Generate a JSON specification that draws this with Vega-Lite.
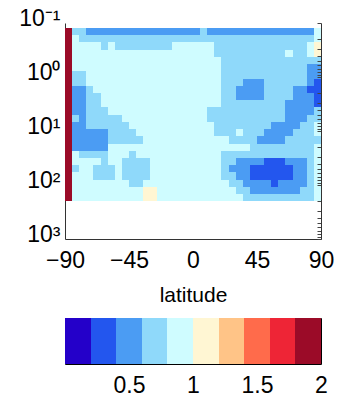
{
  "$schema": "https://vega.github.io/schema/vega-lite/v6.json",
  "background": "white",
  "padding": {"left": 18, "top": 7, "right": 5, "bottom": 2},
  "config": {
    "font": "Liberation Sans",
    "view": {"stroke": null},
    "axis": {"labelFont": "Liberation Sans", "titleFont": "Liberation Sans", "labelColor": "black", "titleColor": "black", "grid": false}
  },
  "spacing": 79,
  "bounds": "flush",
  "resolve": {"scale": {"x": "independent", "y": "independent", "color": "shared"}},
  "vconcat": [
    {
      "width": 256,
      "height": 216,
      "data": {"values": [
        {"a":-90,"b":-85,"p":0.124,"q":200,"v":1.9},
        {"a":-85,"b":-75,"p":0.124,"q":0.169,"v":0.7},{"a":-75,"b":5,"p":0.124,"q":0.169,"v":0.5},{"a":5,"b":10,"p":0.124,"q":0.169,"v":0.7},{"a":10,"b":85,"p":0.124,"q":0.169,"v":0.5},{"a":85,"b":90,"p":0.124,"q":0.169,"v":0.9},
        {"a":-85,"b":-80,"p":0.169,"q":0.229,"v":0.9},{"a":-80,"b":85,"p":0.169,"q":0.229,"v":0.7},{"a":85,"b":90,"p":0.169,"q":0.229,"v":0.9},
        {"a":-85,"b":-65,"p":0.229,"q":0.312,"v":0.9},{"a":-65,"b":-60,"p":0.229,"q":0.312,"v":0.7},{"a":-60,"b":-55,"p":0.229,"q":0.312,"v":0.9},{"a":-55,"b":-15,"p":0.229,"q":0.312,"v":0.7},{"a":-15,"b":15,"p":0.229,"q":0.312,"v":0.9},{"a":15,"b":80,"p":0.229,"q":0.312,"v":0.7},{"a":80,"b":85,"p":0.229,"q":0.312,"v":0.9},{"a":85,"b":90,"p":0.229,"q":0.312,"v":1.1},
        {"a":-85,"b":15,"p":0.312,"q":0.424,"v":0.9},{"a":15,"b":65,"p":0.312,"q":0.424,"v":0.7},{"a":65,"b":70,"p":0.312,"q":0.424,"v":0.9},{"a":70,"b":80,"p":0.312,"q":0.424,"v":0.7},{"a":80,"b":85,"p":0.312,"q":0.424,"v":0.9},{"a":85,"b":90,"p":0.312,"q":0.424,"v":1.1},
        {"a":-85,"b":20,"p":0.424,"q":0.577,"v":0.9},{"a":20,"b":90,"p":0.424,"q":0.577,"v":0.7},
        {"a":-85,"b":20,"p":0.577,"q":0.786,"v":0.9},{"a":20,"b":80,"p":0.577,"q":0.786,"v":0.7},{"a":80,"b":90,"p":0.577,"q":0.786,"v":0.5},
        {"a":-85,"b":-75,"p":0.786,"q":1.07,"v":0.7},{"a":-75,"b":20,"p":0.786,"q":1.07,"v":0.9},{"a":20,"b":80,"p":0.786,"q":1.07,"v":0.7},{"a":80,"b":90,"p":0.786,"q":1.07,"v":0.5},
        {"a":-85,"b":-75,"p":1.07,"q":1.45,"v":0.7},{"a":-75,"b":20,"p":1.07,"q":1.45,"v":0.9},{"a":20,"b":35,"p":1.07,"q":1.45,"v":0.7},{"a":35,"b":50,"p":1.07,"q":1.45,"v":0.5},{"a":50,"b":80,"p":1.07,"q":1.45,"v":0.7},{"a":80,"b":85,"p":1.07,"q":1.45,"v":0.5},{"a":85,"b":90,"p":1.07,"q":1.45,"v":0.3},
        {"a":-85,"b":-75,"p":1.45,"q":1.98,"v":0.5},{"a":-75,"b":-70,"p":1.45,"q":1.98,"v":0.7},{"a":-70,"b":20,"p":1.45,"q":1.98,"v":0.9},{"a":20,"b":30,"p":1.45,"q":1.98,"v":0.7},{"a":30,"b":50,"p":1.45,"q":1.98,"v":0.5},{"a":50,"b":70,"p":1.45,"q":1.98,"v":0.7},{"a":70,"b":80,"p":1.45,"q":1.98,"v":0.5},{"a":80,"b":90,"p":1.45,"q":1.98,"v":0.3},
        {"a":-85,"b":-75,"p":1.98,"q":2.69,"v":0.5},{"a":-75,"b":-65,"p":1.98,"q":2.69,"v":0.7},{"a":-65,"b":20,"p":1.98,"q":2.69,"v":0.9},{"a":20,"b":30,"p":1.98,"q":2.69,"v":0.7},{"a":30,"b":50,"p":1.98,"q":2.69,"v":0.5},{"a":50,"b":70,"p":1.98,"q":2.69,"v":0.7},{"a":70,"b":85,"p":1.98,"q":2.69,"v":0.5},{"a":85,"b":90,"p":1.98,"q":2.69,"v":0.3},
        {"a":-85,"b":-75,"p":2.69,"q":3.66,"v":0.5},{"a":-75,"b":-65,"p":2.69,"q":3.66,"v":0.7},{"a":-65,"b":20,"p":2.69,"q":3.66,"v":0.9},{"a":20,"b":65,"p":2.69,"q":3.66,"v":0.7},{"a":65,"b":85,"p":2.69,"q":3.66,"v":0.5},{"a":85,"b":90,"p":2.69,"q":3.66,"v":0.3},
        {"a":-85,"b":-75,"p":3.66,"q":4.98,"v":0.5},{"a":-75,"b":-60,"p":3.66,"q":4.98,"v":0.7},{"a":-60,"b":10,"p":3.66,"q":4.98,"v":0.9},{"a":10,"b":65,"p":3.66,"q":4.98,"v":0.7},{"a":65,"b":85,"p":3.66,"q":4.98,"v":0.5},{"a":85,"b":90,"p":3.66,"q":4.98,"v":0.7},
        {"a":-85,"b":-80,"p":4.98,"q":6.78,"v":0.7},{"a":-80,"b":-75,"p":4.98,"q":6.78,"v":0.5},{"a":-75,"b":-50,"p":4.98,"q":6.78,"v":0.7},{"a":-50,"b":10,"p":4.98,"q":6.78,"v":0.9},{"a":10,"b":65,"p":4.98,"q":6.78,"v":0.7},{"a":65,"b":80,"p":4.98,"q":6.78,"v":0.5},{"a":80,"b":90,"p":4.98,"q":6.78,"v":0.7},
        {"a":-85,"b":-75,"p":6.78,"q":9.22,"v":0.5},{"a":-75,"b":-45,"p":6.78,"q":9.22,"v":0.7},{"a":-45,"b":15,"p":6.78,"q":9.22,"v":0.9},{"a":15,"b":55,"p":6.78,"q":9.22,"v":0.7},{"a":55,"b":75,"p":6.78,"q":9.22,"v":0.5},{"a":75,"b":85,"p":6.78,"q":9.22,"v":0.7},{"a":85,"b":90,"p":6.78,"q":9.22,"v":0.9},
        {"a":-85,"b":-60,"p":9.22,"q":12.5,"v":0.5},{"a":-60,"b":-40,"p":9.22,"q":12.5,"v":0.7},{"a":-40,"b":15,"p":9.22,"q":12.5,"v":0.9},{"a":15,"b":30,"p":9.22,"q":12.5,"v":0.7},{"a":30,"b":35,"p":9.22,"q":12.5,"v":0.9},{"a":35,"b":50,"p":9.22,"q":12.5,"v":0.7},{"a":50,"b":70,"p":9.22,"q":12.5,"v":0.5},{"a":70,"b":85,"p":9.22,"q":12.5,"v":0.7},{"a":85,"b":90,"p":9.22,"q":12.5,"v":0.9},
        {"a":-85,"b":-60,"p":12.5,"q":17.1,"v":0.5},{"a":-60,"b":-35,"p":12.5,"q":17.1,"v":0.7},{"a":-35,"b":25,"p":12.5,"q":17.1,"v":0.9},{"a":25,"b":45,"p":12.5,"q":17.1,"v":0.7},{"a":45,"b":65,"p":12.5,"q":17.1,"v":0.5},{"a":65,"b":90,"p":12.5,"q":17.1,"v":0.7},
        {"a":-85,"b":-60,"p":17.1,"q":23.2,"v":0.5},{"a":-60,"b":40,"p":17.1,"q":23.2,"v":0.9},{"a":40,"b":85,"p":17.1,"q":23.2,"v":0.7},{"a":85,"b":90,"p":17.1,"q":23.2,"v":0.9},
        {"a":-85,"b":-80,"p":23.2,"q":31.6,"v":0.9},{"a":-80,"b":-60,"p":23.2,"q":31.6,"v":0.7},{"a":-60,"b":-45,"p":23.2,"q":31.6,"v":0.9},{"a":-45,"b":-40,"p":23.2,"q":31.6,"v":0.7},{"a":-40,"b":20,"p":23.2,"q":31.6,"v":0.9},{"a":20,"b":85,"p":23.2,"q":31.6,"v":0.7},{"a":85,"b":90,"p":23.2,"q":31.6,"v":0.9},
        {"a":-85,"b":-65,"p":31.6,"q":43,"v":0.9},{"a":-65,"b":-60,"p":31.6,"q":43,"v":0.7},{"a":-60,"b":-50,"p":31.6,"q":43,"v":0.9},{"a":-50,"b":-30,"p":31.6,"q":43,"v":0.7},{"a":-30,"b":20,"p":31.6,"q":43,"v":0.9},{"a":20,"b":30,"p":31.6,"q":43,"v":0.7},{"a":30,"b":50,"p":31.6,"q":43,"v":0.5},{"a":50,"b":65,"p":31.6,"q":43,"v":0.3},{"a":65,"b":80,"p":31.6,"q":43,"v":0.5},{"a":80,"b":85,"p":31.6,"q":43,"v":0.7},{"a":85,"b":90,"p":31.6,"q":43,"v":0.9},
        {"a":-85,"b":-80,"p":43,"q":58.5,"v":0.7},{"a":-80,"b":-70,"p":43,"q":58.5,"v":0.9},{"a":-70,"b":-55,"p":43,"q":58.5,"v":0.7},{"a":-55,"b":-50,"p":43,"q":58.5,"v":0.9},{"a":-50,"b":-30,"p":43,"q":58.5,"v":0.7},{"a":-30,"b":20,"p":43,"q":58.5,"v":0.9},{"a":20,"b":25,"p":43,"q":58.5,"v":0.7},{"a":25,"b":40,"p":43,"q":58.5,"v":0.5},{"a":40,"b":70,"p":43,"q":58.5,"v":0.3},{"a":70,"b":80,"p":43,"q":58.5,"v":0.5},{"a":80,"b":85,"p":43,"q":58.5,"v":0.7},{"a":85,"b":90,"p":43,"q":58.5,"v":0.9},
        {"a":-85,"b":-70,"p":58.5,"q":79.6,"v":0.9},{"a":-70,"b":-55,"p":58.5,"q":79.6,"v":0.7},{"a":-55,"b":-50,"p":58.5,"q":79.6,"v":0.9},{"a":-50,"b":-30,"p":58.5,"q":79.6,"v":0.7},{"a":-30,"b":20,"p":58.5,"q":79.6,"v":0.9},{"a":20,"b":30,"p":58.5,"q":79.6,"v":0.7},{"a":30,"b":40,"p":58.5,"q":79.6,"v":0.5},{"a":40,"b":70,"p":58.5,"q":79.6,"v":0.3},{"a":70,"b":80,"p":58.5,"q":79.6,"v":0.5},{"a":80,"b":85,"p":58.5,"q":79.6,"v":0.7},{"a":85,"b":90,"p":58.5,"q":79.6,"v":0.9},
        {"a":-85,"b":-45,"p":79.6,"q":108,"v":0.9},{"a":-45,"b":-35,"p":79.6,"q":108,"v":0.7},{"a":-35,"b":25,"p":79.6,"q":108,"v":0.9},{"a":25,"b":35,"p":79.6,"q":108,"v":0.7},{"a":35,"b":55,"p":79.6,"q":108,"v":0.5},{"a":55,"b":60,"p":79.6,"q":108,"v":0.3},{"a":60,"b":80,"p":79.6,"q":108,"v":0.5},{"a":80,"b":85,"p":79.6,"q":108,"v":0.7},{"a":85,"b":90,"p":79.6,"q":108,"v":0.9},
        {"a":-85,"b":-35,"p":108,"q":147,"v":0.9},{"a":-35,"b":-25,"p":108,"q":147,"v":1.1},{"a":-25,"b":30,"p":108,"q":147,"v":0.9},{"a":30,"b":40,"p":108,"q":147,"v":0.7},{"a":40,"b":75,"p":108,"q":147,"v":0.5},{"a":75,"b":85,"p":108,"q":147,"v":0.7},{"a":85,"b":90,"p":108,"q":147,"v":0.9},
        {"a":-85,"b":-35,"p":147,"q":200,"v":0.9},{"a":-35,"b":-25,"p":147,"q":200,"v":1.1},{"a":-25,"b":35,"p":147,"q":200,"v":0.9},{"a":35,"b":85,"p":147,"q":200,"v":0.7},{"a":85,"b":90,"p":147,"q":200,"v":0.9}
      ]},
      "layer": [
        {
          "mark": {"type": "rect"},
          "encoding": {
            "x": {"field": "a", "type": "quantitative", "scale": {"domain": [-90, 90], "nice": false, "round": true},
              "axis": {"values": [-90, -45, 0, 45, 90], "title": "latitude", "labelFontSize": 23, "titleFontSize": 21, "titleFontWeight": "normal", "ticks": false, "labelPadding": 10, "titlePadding": 12, "domainColor": "#333", "labelFlush": false, "labelOverlap": false}},
            "x2": {"field": "b"},
            "y": {"field": "p", "type": "quantitative", "scale": {"type": "log", "domain": [0.1, 1000], "reverse": true, "nice": false, "round": true},
              "axis": {"values": [0.1, 1, 10, 100, 1000], "title": null, "labelFontSize": 23, "ticks": false, "labelPadding": 5, "labelOffset": -5, "domainColor": "#333", "labelFlush": false, "labelOverlap": false,
                "labelExpr": "datum.value < 0.5 ? '10⁻¹' : datum.value < 5 ? '10⁰' : datum.value < 50 ? '10¹' : datum.value < 500 ? '10²' : '10³'"}},
            "y2": {"field": "q"},
            "color": {"field": "v", "type": "quantitative", "legend": null,
              "scale": {"type": "threshold", "domain": [0.2, 0.4, 0.6, 0.8, 1.0, 1.2, 1.4, 1.6, 1.8],
                "range": ["#2400c9", "#2356ee", "#4b9cf3", "#8fd9fa", "#cffcff", "#fff6d3", "#ffc487", "#ff6b4b", "#ee2536", "#9b0b28"]}}
          }
        },
        {
          "mark": {"type": "rect", "opacity": 0},
          "encoding": {
            "y": {"field": "p", "type": "quantitative", "scale": {"type": "log", "domain": [0.1, 1000], "reverse": true, "nice": false, "round": true},
              "axis": {"orient": "right", "labels": false, "title": null, "ticks": true, "tickSize": -4, "tickColor": "#444", "domainColor": "#333", "zindex": 1,
                "values": [0.1,0.2,0.3,0.4,0.5,0.6,0.7,0.8,0.9,1,2,3,4,5,6,7,8,9,10,20,30,40,50,60,70,80,90,100,200,300,400,500,600,700,800,900,1000]}},
            "y2": {"field": "q"}
          }
        }
      ],
      "resolve": {"axis": {"y": "independent"}}
    },
    {
      "width": 256,
      "height": 46,
      "view": {"stroke": "black", "strokeWidth": 1},
      "data": {"values": [
        {"lo": 0.0, "hi": 0.2, "v": 0.1}, {"lo": 0.2, "hi": 0.4, "v": 0.3}, {"lo": 0.4, "hi": 0.6, "v": 0.5}, {"lo": 0.6, "hi": 0.8, "v": 0.7}, {"lo": 0.8, "hi": 1.0, "v": 0.9},
        {"lo": 1.0, "hi": 1.2, "v": 1.1}, {"lo": 1.2, "hi": 1.4, "v": 1.3}, {"lo": 1.4, "hi": 1.6, "v": 1.5}, {"lo": 1.6, "hi": 1.8, "v": 1.7}, {"lo": 1.8, "hi": 2.0, "v": 1.9}
      ]},
      "mark": {"type": "rect"},
      "encoding": {
        "x": {"field": "lo", "type": "quantitative", "scale": {"domain": [0, 2], "nice": false, "round": true},
          "axis": {"values": [0.5, 1, 1.5, 2], "title": null, "labelFontSize": 23, "ticks": false, "domain": false, "labelPadding": 10, "labelFlush": false, "format": "~g"}},
        "x2": {"field": "hi"},
        "color": {"field": "v", "type": "quantitative", "legend": null,
          "scale": {"type": "threshold", "domain": [0.2, 0.4, 0.6, 0.8, 1.0, 1.2, 1.4, 1.6, 1.8],
            "range": ["#2400c9", "#2356ee", "#4b9cf3", "#8fd9fa", "#cffcff", "#fff6d3", "#ffc487", "#ff6b4b", "#ee2536", "#9b0b28"]}}
      }
    }
  ]
}
